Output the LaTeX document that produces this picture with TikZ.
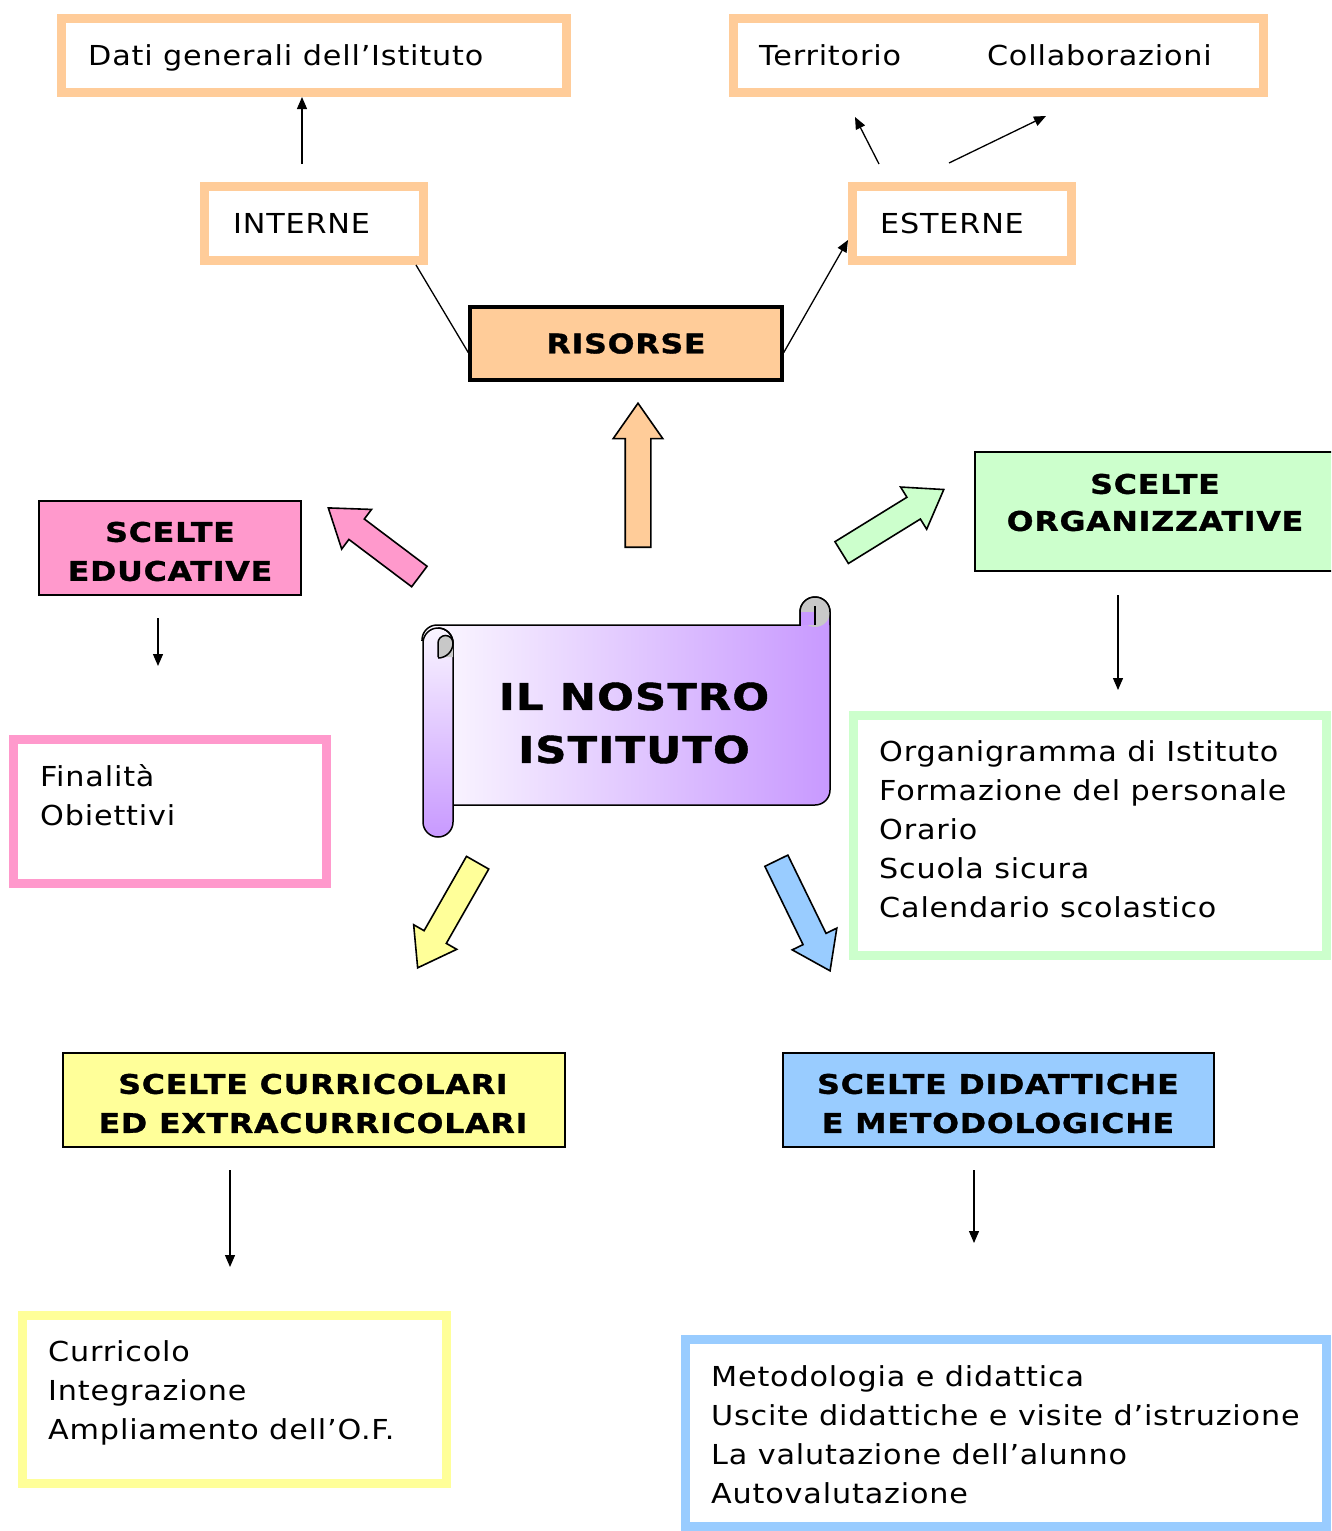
\documentclass[tikz,border=0pt]{standalone}
\usepackage{fontspec}
\setmainfont{DejaVu Sans}[FakeStretch=1.1, LetterSpace=3, BoldFeatures={FakeStretch=1.17, LetterSpace=3, FakeBold=1.2}]
\usetikzlibrary{arrows.meta, positioning, shapes.arrows}

\definecolor{risorseorange}{HTML}{FFCC99}
\definecolor{educpink}{HTML}{FF99CC}
\definecolor{orggreen}{HTML}{CCFFCC}
\definecolor{curryellow}{HTML}{FFFF99}
\definecolor{didblue}{HTML}{99CCFF}
\definecolor{scrollpurple}{HTML}{C899FF}
\definecolor{curlgray}{HTML}{C8C8C8}

\tikzset{
  pfeil/.style={-{Triangle[length=12pt,width=10pt]}, line width=1.3pt},
  listbox/.style={draw=#1, line width=9pt, inner sep=0pt},
  listtext/.style={anchor=west, inner sep=0pt, align=left, font=\fontsize{27.5}{39}\selectfont},
  headbox/.style={draw=black, fill=#1, line width=1.5pt, inner sep=0pt},
  headtext/.style={inner sep=0pt, align=center, font=\fontsize{27}{39}\selectfont\bfseries},
  bigarrow/.style={single arrow, draw=black, fill=#1, line width=1.6pt, inner sep=12pt, anchor=tail,
    single arrow head extend=12pt, single arrow tip angle=70, minimum width=0pt}
}

\begin{document}
\begin{tikzpicture}[x=1pt, y=-1pt]
  \useasboundingbox (0,0) rectangle (1331,1531);
  \clip (0,0) rectangle (1331,1531);

  % risorse
  \node[listbox=risorseorange, minimum width=505pt, minimum height=74pt] (dati) at (314,55.5) {};
  \node[listtext, anchor=base west] (datiText) at (88,65) {Dati generali dell’Istituto};
  \node[listbox=risorseorange, minimum width=530pt, minimum height=74pt] (terr) at (998.5,55.5) {};
  \node[listtext, anchor=base west] (terrText) at (759,65) {Territorio\hspace{86pt}Collaborazioni};
  \node[listbox=risorseorange, minimum width=219pt, minimum height=74pt] (interne) at (314,223.5) {};
  \node[listtext, anchor=base west] (interneText) at (233,233) {INTERNE};
  \node[listbox=risorseorange, minimum width=219pt, minimum height=74pt] (esterne) at (962,223.5) {};
  \node[listtext, anchor=base west] (esterneText) at (880,233) {ESTERNE};
  \node[headbox=risorseorange, headtext, line width=3.5pt, minimum width=312pt, minimum height=73pt] (risorse) at (626,343.5) {RISORSE};

  \coordinate (intA) at (302,164);
  \coordinate (estA) at (879,164);
  \coordinate (estB) at (855,117);
  \coordinate (estC) at (949,163);
  \coordinate (estD) at (1046,116);
  \draw[pfeil] (intA) -- (intA |- dati.south);
  \draw[line width=1.3pt] ([xshift=-12pt]interne.south east) -- ([yshift=-9pt]risorse.west);
  \draw[pfeil] ([yshift=-9pt]risorse.east) -- ([yshift=-16.5pt]esterne.west);
  \draw[pfeil] (estA) -- (estB);
  \draw[pfeil] (estC) -- (estD);

  % scelte
  \node[headbox=educpink, minimum width=262pt, minimum height=94pt] (educ) at (170,548) {};
  \node[headtext] (educText) at (170,551.5) {SCELTE\\EDUCATIVE};
  \node[listbox=educpink, minimum width=313pt, minimum height=144pt] (finBox) at (170,811.5) {};
  \node[listtext] (finText) at (40,795) {Finalità\\Obiettivi};

  \node[headbox=orggreen, minimum width=360pt, minimum height=119pt] (organ) at (1155,511.5) {};
  \node[headtext, font=\fontsize{27}{37}\selectfont\bfseries] (organText) at (1155,502.5) {SCELTE\\ORGANIZZATIVE};
  \node[listbox=orggreen, minimum width=473pt, minimum height=240pt] (orgBox) at (1090,835.5) {};
  \node[listtext] (orgText) at (879,829) {Organigramma di Istituto\\Formazione del personale\\Orario\\Scuola sicura\\Calendario scolastico};

  \node[headbox=curryellow, minimum width=502pt, minimum height=94pt] (curric) at (314,1100) {};
  \node[headtext] (curricText) at (313,1103.5) {SCELTE CURRICOLARI\\ED EXTRACURRICOLARI};
  \node[listbox=curryellow, minimum width=424pt, minimum height=168pt] (curBox) at (234.5,1399.5) {};
  \node[listtext] (curText) at (48,1393) {Curricolo\\Integrazione\\Ampliamento dell’O.F.};

  \node[headbox=didblue, minimum width=431pt, minimum height=94pt] (didat) at (998.5,1100) {};
  \node[headtext] (didatText) at (998,1103.5) {SCELTE DIDATTICHE\\E METODOLOGICHE};
  \node[listbox=didblue, minimum width=641pt, minimum height=187pt] (metBox) at (1006,1433) {};
  \node[listtext] (metText) at (711,1435) {Metodologia e didattica\\Uscite didattiche e visite d’istruzione\\La valutazione dell’alunno\\Autovalutazione};

  \coordinate (eduA) at (158,618);
  \coordinate (eduB) at (158,666);
  \coordinate (orgA) at (1118,595);
  \coordinate (orgB) at (1118,690);
  \coordinate (curA) at (230,1170);
  \coordinate (curB) at (230,1267);
  \coordinate (didA) at (974,1170);
  \coordinate (didB) at (974,1243);
  \draw[pfeil] (eduA) -- (eduB);
  \draw[pfeil] (orgA) -- (orgB);
  \draw[pfeil] (curA) -- (curB);
  \draw[pfeil] (didA) -- (didB);

  % frecce grandi
  \node[bigarrow=risorseorange, minimum height=144pt, rotate=90] (arrRis) at (638,548) {};
  \node[bigarrow=educpink, minimum height=114pt, rotate=143] (arrEdu) at (420,577) {};
  \node[bigarrow=orggreen, minimum height=120pt, rotate=31.7] (arrOrg) at (841,553) {};
  \node[bigarrow=curryellow, minimum height=121pt, rotate=240.3] (arrCur) at (478,862) {};
  \node[bigarrow=didblue, minimum height=122.5pt, rotate=296] (arrDid) at (776,860) {};

  % pergamena
  \shade[left color=scrollpurple!5, right color=scrollpurple, draw=black, line width=1.5pt]
    (422,640) arc[start angle=180, end angle=270, radius=15] -- (800,625) -- (800,612)
    arc[start angle=180, end angle=360, radius=15] -- (830,790)
    arc[start angle=0, end angle=90, radius=15] -- (452,805) -- (452,640) -- cycle;
  \fill[curlgray] (815,612) circle[radius=15];
  \fill[scrollpurple] (800,612) rectangle (815,625);
  \draw[line width=1.5pt] (800,625) -- (800,612) arc[start angle=180, end angle=360, radius=15] -- (830,625);
  \draw[line width=1.5pt] (815,606) -- (815,625);
  \shade[top color=scrollpurple!10, bottom color=scrollpurple, draw=black, line width=1.5pt]
    (423,643) -- (423,822) arc[start angle=180, end angle=0, radius=15] -- (453,643)
    arc[start angle=0, end angle=-180, radius=15] -- cycle;
  \fill[curlgray] (438,657) -- (438,643) arc[start angle=180, end angle=360, radius=7.5] -- (453,657) -- cycle;
  \draw[line width=1.5pt] (438,657) -- (438,643) arc[start angle=180, end angle=360, radius=7.5];
  \draw[line width=1.5pt] (438,628) arc[start angle=270, end angle=450, radius=15];
  \node[font=\fontsize{37}{53}\selectfont\bfseries, align=center] (istituto) at (634,723) {IL NOSTRO\\ISTITUTO};
\end{tikzpicture}
\end{document}
